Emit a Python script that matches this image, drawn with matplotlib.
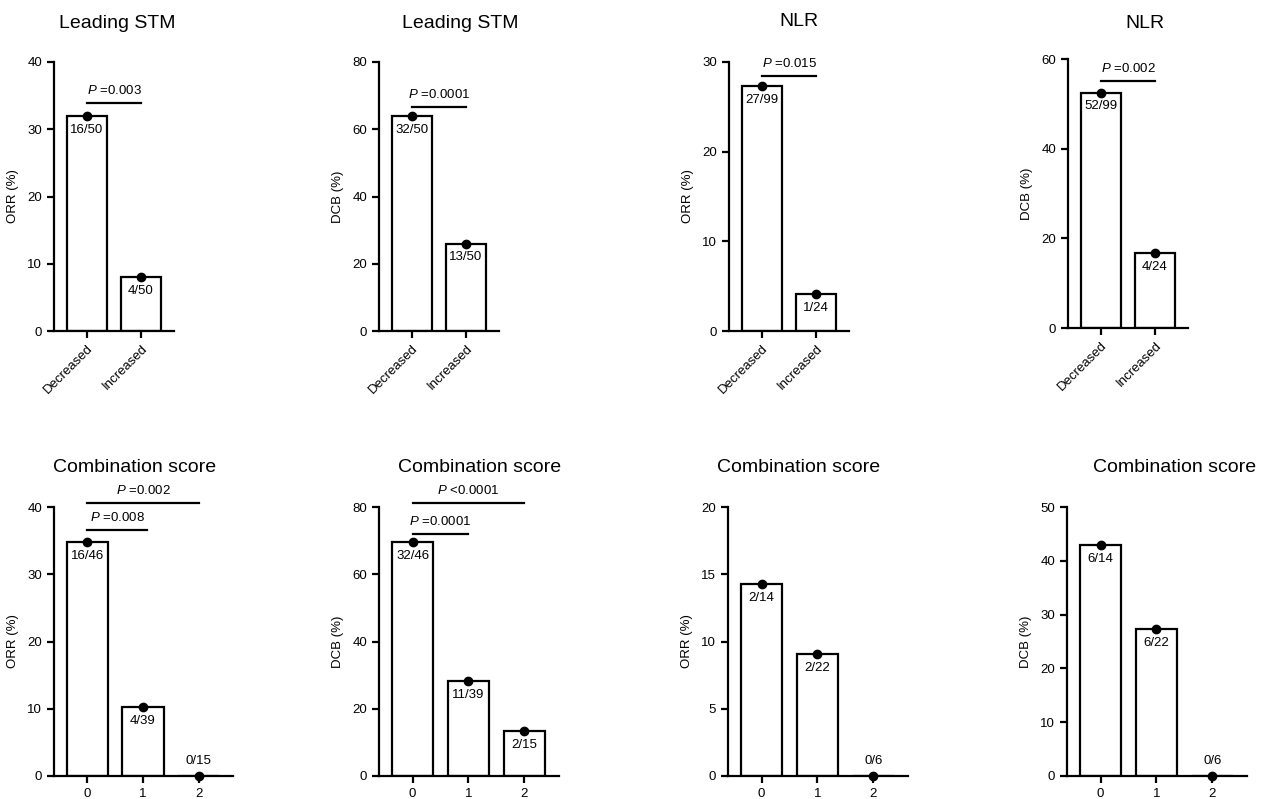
import numpy as np
import matplotlib
matplotlib.use('Agg')
from matplotlib import pyplot as plt

plt.rcParams['font.family'] = ['Liberation Sans', 'DejaVu Sans']
plt.rcParams['mathtext.fontset'] = 'custom'
plt.rcParams['mathtext.it'] = 'Liberation Sans:italic'
plt.rcParams['mathtext.rm'] = 'Liberation Sans'

# data (responders / total per group)
titles = ['Leading STM', 'Leading STM', 'NLR', 'NLR',
          'Combination score', 'Combination score', 'Combination score', 'Combination score']
ylabels = ['ORR (%)', 'DCB (%)', 'ORR (%)', 'DCB (%)',
           'ORR (%)', 'DCB (%)', 'ORR (%)', 'DCB (%)']
groups_2 = ['Decreased', 'Increased']
groups_3 = ['0', '1', '2']

resp_stm_orr = [16, 4];  n_stm_orr = [50, 50]
resp_stm_dcb = [32, 13]; n_stm_dcb = [50, 50]
resp_nlr_orr = [27, 1];  n_nlr_orr = [99, 24]
resp_nlr_dcb = [52, 4];  n_nlr_dcb = [99, 24]
resp_cs_orr1 = [16, 4, 0];  n_cs_orr1 = [46, 39, 15]
resp_cs_dcb1 = [32, 11, 2]; n_cs_dcb1 = [46, 39, 15]
resp_cs_orr2 = [2, 2, 0];   n_cs_orr2 = [14, 22, 6]
resp_cs_dcb2 = [6, 6, 0];   n_cs_dcb2 = [14, 22, 6]

ymax = [40, 80, 30, 60, 40, 80, 20, 50]
ystep = [10, 20, 10, 20, 10, 20, 5, 10]

# p-value brackets: (x0, x1, bar height, text)
pvals = [
    [(0, 1, 33.9, '=0.003')],
    [(0, 1, 66.6, '=0.0001')],
    [(0, 1, 28.4, '=0.015')],
    [(0, 1, 55.1, '=0.002')],
    [(0, 1.07, 36.6, '=0.008'), (0, 2, 40.6, '=0.002')],
    [(0, 1, 72.0, '=0.0001'), (0, 2, 81.2, '<0.0001')],
    [],
    [],
]

resp = [resp_stm_orr, resp_stm_dcb, resp_nlr_orr, resp_nlr_dcb,
        resp_cs_orr1, resp_cs_dcb1, resp_cs_orr2, resp_cs_dcb2]
tot = [n_stm_orr, n_stm_dcb, n_nlr_orr, n_nlr_dcb,
       n_cs_orr1, n_cs_dcb1, n_cs_orr2, n_cs_dcb2]

W, H = 1268, 799
fig = plt.figure(figsize=(W / 100, H / 100), dpi=100)

# axes boxes in pixels: left, top, width, bottom
boxes = [(54, 62, 120, 331), (379, 62, 120, 331), (729, 62, 120, 331), (1068, 59, 120, 328),
         (54, 507, 179, 776), (379, 507, 180, 776), (728, 507, 180, 776), (1067, 507, 180, 776)]
title_pos = [(117, 23), (460, 23), (799, 21), (1145, 23),
             (135, 467), (480, 467), (799, 467), (1175, 467)]

for i in range(8):
    l, t, w, b = boxes[i]
    ax = fig.add_axes([l / W, 1 - b / H, w / W, (b - t) / H])
    r = np.array(resp[i]); n = np.array(tot[i])
    pct = 100 * r / n
    x = np.arange(len(r))
    ax.bar(x, pct, width=0.74, color='white', edgecolor='black', linewidth=1.6, zorder=2)
    ax.plot(x, pct, 'o', color='black', markersize=6, zorder=3, clip_on=False)
    for xi, p, ri, ni in zip(x, pct, r, n):
        if p == 0:
            ax.annotate(f'{ri}/{ni}', (xi, p), xytext=(0, 11), textcoords='offset points',
                        ha='center', va='center', fontsize=9.5)
        else:
            ax.annotate(f'{ri}/{ni}', (xi, p), xytext=(0, -10), textcoords='offset points',
                        ha='center', va='center', fontsize=9.5)
    for x0, x1, y, txt in pvals[i]:
        ax.plot([x0, x1], [y, y], color='black', linewidth=1.6, clip_on=False)
        ax.annotate('$P$ ' + txt, ((x0 + x1) / 2, y), xytext=(0, 9), textcoords='offset points',
                    ha='center', va='center', fontsize=9.5, annotation_clip=False)

    ax.set_ylim(0, ymax[i])
    ax.set_yticks(np.arange(0, ymax[i] + 0.1, ystep[i]))
    if len(r) == 2:
        ax.set_xlim(-0.61, 1.61)
        ax.set_xticks(x)
        ax.set_xticklabels(groups_2, rotation=45, ha='right', rotation_mode='anchor')
    else:
        ax.set_xlim(-0.6, 2.62)
        ax.set_xticks(x)
        ax.set_xticklabels(groups_3)
    ax.set_ylabel(ylabels[i], fontsize=9.5, labelpad=6)
    for s in ['top', 'right']:
        ax.spines[s].set_visible(False)
    for s in ['left', 'bottom']:
        ax.spines[s].set_linewidth(1.6)
    ax.tick_params(width=1.6, length=5, labelsize=9.5, colors='black')
    ax.set_facecolor('none')

    tx, ty = title_pos[i]
    fig.text(tx / W, 1 - ty / H, titles[i], ha='center', va='center', fontsize=14)

fig.savefig('out.png', dpi=100)
